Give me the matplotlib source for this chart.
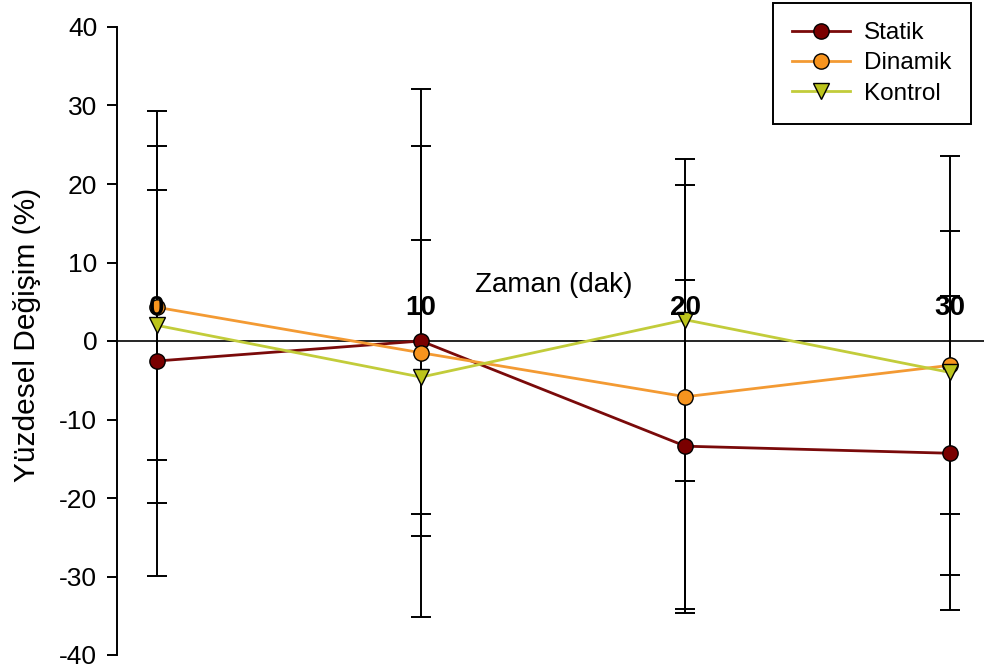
import matplotlib
matplotlib.use("Agg")
import matplotlib.pyplot as plt

plt.rcParams['font.family'] = ['Liberation Sans', 'DejaVu Sans']

# Time points (minutes)
times = [0, 10, 20, 30]
time_labels = ["0", "10", "20", "30"]

# Percent change: means and standard deviations per group
statik_mean = [-2.55, 0.0, -13.4, -14.3]
statik_sd = [27.4, 24.9, 21.2, 20.0]

dinamik_mean = [4.3, -1.5, -7.1, -3.1]
dinamik_sd = [25.0, 33.6, 27.0, 26.7]

kontrol_mean = [2.0, -4.6, 2.7, -4.0]
kontrol_sd = [17.2, 17.5, 20.5, 18.0]

y_ticks = [-40, -30, -20, -10, 0, 10, 20, 30, 40]

series = [
    ("Statik", statik_mean, statik_sd, "o", "#7a0000", "#7a0a0a"),
    ("Dinamik", dinamik_mean, dinamik_sd, "o", "#f7941e", "#f39a33"),
    ("Kontrol", kontrol_mean, kontrol_sd, "v", "#bcc41c", "#c2cc3a"),
]

fig = plt.figure(figsize=(9.84, 6.70), dpi=100)
ax = fig.add_axes([116.7 / 984, 15 / 670, (984 - 116.7) / 984, 628 / 670])
ax.set_xlim(-1.512, 31.29)
ax.set_ylim(-40, 40)

# Error bars (black) behind the data lines
for name, mean, sd, mk, fc, lc in series:
    ax.errorbar(times, mean, yerr=sd, fmt='none', ecolor='black',
                elinewidth=1.4, capsize=7.2, capthick=1.4, zorder=2)

# Zero reference line acting as the time axis
ax.axhline(0, color='black', linewidth=1.2, zorder=1.5)

for name, mean, sd, mk, fc, lc in series:
    ax.plot(times, mean, color=lc, linewidth=2.0, marker=mk, markersize=11,
            markerfacecolor=fc, markeredgecolor='black', markeredgewidth=1.0,
            label=name, zorder=4)

# Time labels sit just above the zero line
for t, lab in zip(times, time_labels):
    ax.text(t, 3.3, lab, ha='center', va='baseline', fontsize=20,
            fontweight='bold', zorder=5)
ax.text(15.0, 6.25, "Zaman (dak)", ha='center', va='baseline', fontsize=20)

ax.set_xticks([])
ax.set_yticks(y_ticks)
ax.set_yticklabels([str(v) for v in y_ticks])
ax.tick_params(axis='y', direction='out', length=7, width=1.4, pad=7,
               labelsize=19)
for side in ['top', 'right', 'bottom']:
    ax.spines[side].set_visible(False)
ax.spines['left'].set_linewidth(1.4)

fig.text(27 / 984, 1 - 335 / 670, "Yüzdesel Değişim (%)", rotation=90,
         ha='center', va='center', fontsize=21.5)

leg = ax.legend(loc='upper left', bbox_to_anchor=(773 / 984, 1 - 3 / 670),
                bbox_transform=fig.transFigure, fontsize=17.5, frameon=True,
                fancybox=False, shadow=False, handlelength=2.35,
                labelspacing=0.33, borderpad=0.8, handletextpad=0.6,
                borderaxespad=0)
leg.get_frame().set_edgecolor('black')
leg.get_frame().set_linewidth(1.4)
leg.get_frame().set_alpha(1)

fig.savefig("out.png", dpi=100)
